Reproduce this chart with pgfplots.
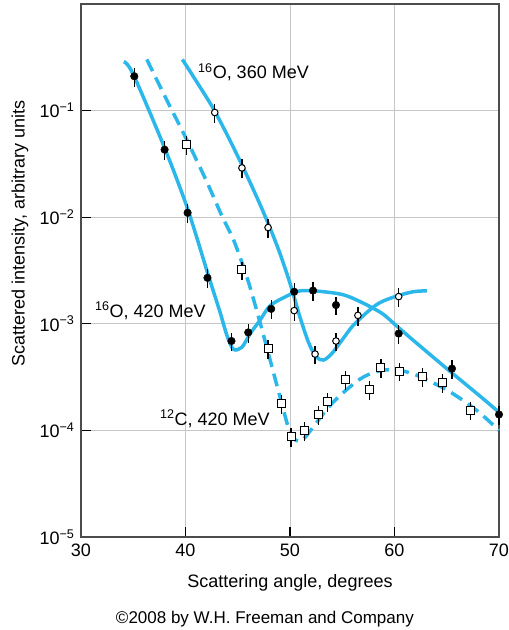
\documentclass[border=0pt]{standalone}
\usepackage{fontspec}
\setmainfont{Liberation Sans}
\usepackage{pgfplots}
\pgfplotsset{compat=1.18}
\definecolor{curve}{RGB}{44,183,234}
\newcommand\bigf{\fontsize{18}{21.6}\selectfont}
\begin{document}
\begin{tikzpicture}
\begin{axis}[
  at={(0,0)}, anchor=south west,
  scale only axis, width=418pt, height=533pt,
  xmin=30, xmax=70, ymode=log, ymin=1e-5, ymax=1,
  xtick={30,40,50,60,70}, xticklabels={30,40,50,60,70},
  ytick={1e-5,1e-4,1e-3,1e-2,1e-1},
  yticklabels={10\textsuperscript{−5},10\textsuperscript{−4},10\textsuperscript{−3},10\textsuperscript{−2},10\textsuperscript{−1}},
  yminorticks=false,
  xtick pos=left, ytick pos=left,
  tick align=inside,
  major tick length=10pt,
  every tick/.style={black, line width=1.2pt},
  grid=major, major grid style={gray!45, line width=0.8pt},
  axis line style={black!70, line width=1.5pt},
  tick label style={font=\bigf},
  xticklabel style={yshift=-3pt},
  yticklabel style={xshift=-3pt},
  clip=false,
  ptserr/.style={error bars/.cd, y dir=both, y fixed relative=0.2, error mark=none,
     error bar style={black, line width=1.2pt}},
]
% 16O, 420 MeV theory
\addplot[curve, line width=3.5pt, smooth, tension=0.5] coordinates {
(34.1,0.288) (35,0.219) (38,0.0447) (40.2,0.0120) (42.2,0.00282) (43.3,0.00129)
(44,7.6e-4) (44.6,5.75e-4) (45.4,6.03e-4) (46.2,8.13e-4) (47.1,1.07e-3) (48.1,1.48e-3)
(49.7,1.82e-3) (51,2.04e-3) (53.2,2.0e-3) (55.5,1.82e-3) (58.6,1.29e-3) (60.2,9.55e-4)
(61.8,7.0e-4) (65,3.8e-4) (68.2,2.09e-4) (70,1.48e-4)};
% 16O, 360 MeV theory
\addplot[curve, line width=3.5pt, smooth, tension=0.5] coordinates {
(39.7,0.302) (41,0.191) (42.6,0.107) (44,0.0589) (45.5,0.0295) (47,0.0141) (48,0.00832)
(49,0.00468) (50,0.0024) (51,0.00112) (51.8,6.6e-4) (52.5,4.9e-4) (53.2,4.57e-4)
(54,5.25e-4) (55,7.08e-4) (56,9.55e-4) (57.4,1.29e-3) (58.6,1.58e-3) (60.2,1.82e-3)
(61.8,2.0e-3) (63.1,2.04e-3)};
% 12C, 420 MeV theory
\addplot[curve, line width=3.5pt, dash pattern=on 13pt off 7pt, smooth, tension=0.5] coordinates {
(36.3,0.302) (38,0.138) (40.1,0.0537) (42,0.0219) (43.5,0.0102) (44.5,6.46e-3)
(45.2,4.27e-3) (46,2.51e-3) (46.8,1.35e-3) (47.5,7.59e-4) (48.1,4.57e-4) (48.7,2.75e-4)
(49.3,1.66e-4) (49.8,1.10e-4) (50.3,8.5e-5) (50.8,7.94e-5) (51.3,8.3e-5) (52.2,1.07e-4)
(53.8,1.7e-4) (55.5,2.45e-4) (57,3.16e-4) (58.6,3.63e-4) (60.2,3.7e-4)
(61.8,3.39e-4) (63.4,2.88e-4) (65,2.4e-4) (66.6,1.9e-4) (68.2,1.45e-4) (70,1.0e-4)};
% data: 16O 420 MeV (filled circles)
\addplot[only marks, mark=*, mark size=3.8pt, mark options={fill=black, draw=black}, ptserr] coordinates {
(35.1,0.21) (38.0,0.043) (40.2,0.011) (42.1,0.0027) (44.4,6.9e-4) (46.0,8.3e-4)
(48.2,1.38e-3) (50.4,2.0e-3) (52.2,2.05e-3) (54.4,1.5e-3) (60.4,8.1e-4) (65.5,3.8e-4) (70.0,1.41e-4)};
% data: 16O 360 MeV (open circles)
\addplot[only marks, mark=*, mark size=3.3pt, mark options={fill=white, draw=black, line width=1pt}, ptserr] coordinates {
(42.8,0.096) (45.4,0.029) (47.9,8.0e-3) (50.4,1.33e-3) (52.4,5.2e-4) (54.4,6.9e-4) (56.5,1.2e-3) (60.4,1.8e-3)};
% data: 12C 420 MeV (open squares)
\addplot[only marks, mark=square*, mark size=4pt, mark options={fill=white, draw=black, line width=1pt}, ptserr] coordinates {
(40.1,0.048) (45.4,3.2e-3) (47.9,5.9e-4) (49.2,1.8e-4) (50.1,8.8e-5) (51.4,1.0e-4)
(52.7,1.4e-4) (53.6,1.85e-4) (55.3,3.0e-4) (57.6,2.4e-4) (58.7,3.9e-4) (60.5,3.6e-4)
(62.7,3.2e-4) (64.6,2.8e-4) (67.3,1.55e-4)};
% labels
\node[anchor=base west, font=\bigf, inner sep=0pt] at (axis cs:41.2,0.201) {\textsuperscript{16}O, 360 MeV};
\node[anchor=base west, font=\bigf, inner sep=0pt] at (axis cs:31.34,1.153e-3) {\textsuperscript{16}O, 420 MeV};
\node[anchor=base west, font=\bigf, inner sep=0pt] at (axis cs:37.56,1.12e-4) {\textsuperscript{12}C, 420 MeV};
\node[rotate=90, anchor=center, font=\bigf, inner sep=0pt] at ([xshift=-61pt]rel axis cs:0,0.57) {Scattered intensity, arbitrary units};
\node[anchor=base, font=\bigf, inner sep=0pt] at ([yshift=-50pt]rel axis cs:0.5,0) {Scattering angle, degrees};
\node[anchor=base, font=\fontsize{17}{20}\selectfont, inner sep=0pt] at ([yshift=-86pt]rel axis cs:0.44,0) {©2008 by W.H. Freeman and Company};
\end{axis}
\pgfresetboundingbox
\useasboundingbox (-81pt,-93pt) rectangle (428pt,537pt);
\end{tikzpicture}
\end{document}
